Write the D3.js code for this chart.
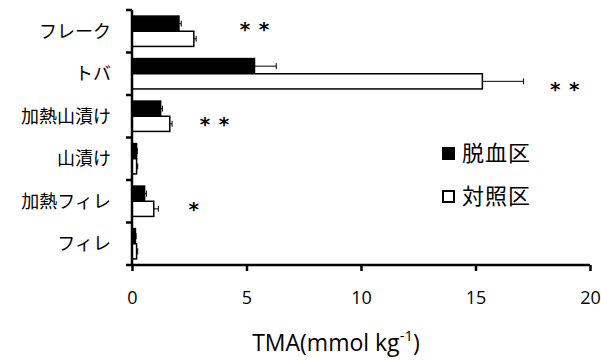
<!DOCTYPE html>
<html>
<head>
<meta charset="utf-8">
<script src="https://cdn.jsdelivr.net/npm/d3@7"></script>
<style>
  body { margin: 0; background: #fff; }
  text { fill: #000; }
</style>
</head>
<body>
<div id="chart"></div>
<script>
// categories top to bottom
var categories = ["フレーク", "トバ", "加熱山漬け", "山漬け", "加熱フィレ", "フィレ"];
var seriesNames = ["脱血区", "対照区"];
var bloodValues = [2.05, 5.35, 1.25, 0.2, 0.55, 0.15];
var bloodErrors = [0.1, 0.95, 0.08, 0.03, 0.08, 0.03];
var controlValues = [2.7, 15.3, 1.65, 0.2, 0.95, 0.2];
var controlErrors = [0.1, 1.8, 0.1, 0.05, 0.2, 0.05];
var marks = ["**", "**", "**", "", "*", ""];
var markAt = [5.35, 18.9, 3.6, null, 2.7, null];   // x value where each mark sits
var xTicks = [0, 5, 10, 15, 20];

var svgWidth = 601;
var svgHeight = 360;
var margin = { top: 10, right: 11, bottom: 95, left: 132 };
var width = svgWidth - margin.left - margin.right;
var height = svgHeight - margin.top - margin.bottom;

var svg = d3.select("#chart")
    .append("svg")
    .attr("width", svgWidth)
    .attr("height", svgHeight);

var chartGroup = svg.append("g")
    .attr("transform", `translate(${margin.left}, ${margin.top})`);

var xScale = d3.scaleLinear().domain([0, 20]).range([0, width]);
var yScale = d3.scaleBand().domain(categories).range([0, height]);
var innerScale = d3.scaleBand().domain(seriesNames)
    .range([0, yScale.bandwidth()])
    .paddingOuter(0.4);

var data = categories.map(function(c, i) {
    return [
        { cat: c, series: seriesNames[0], value: bloodValues[i], err: bloodErrors[i], fill: "#000" },
        { cat: c, series: seriesNames[1], value: controlValues[i], err: controlErrors[i], fill: "#fff" }
    ];
});
var flat = [].concat.apply([], data);

// bars
chartGroup.selectAll("rect.bar")
    .data(flat)
    .enter()
    .append("rect")
    .attr("class", "bar")
    .attr("x", 0)
    .attr("y", d => yScale(d.cat) + innerScale(d.series))
    .attr("width", d => xScale(d.value))
    .attr("height", innerScale.bandwidth())
    .attr("fill", d => d.fill)
    .attr("stroke", "#000")
    .attr("stroke-width", 1.5);

// error bars (right side only)
var errGroup = chartGroup.selectAll("g.err")
    .data(flat)
    .enter()
    .append("g")
    .attr("class", "err")
    .attr("stroke", "#000")
    .attr("stroke-width", 1);

var midY = d => yScale(d.cat) + innerScale(d.series) + innerScale.bandwidth() / 2;

errGroup.append("line")
    .attr("x1", d => xScale(d.value))
    .attr("x2", d => xScale(d.value + d.err))
    .attr("y1", midY)
    .attr("y2", midY);

errGroup.append("line")
    .attr("x1", d => xScale(d.value + d.err))
    .attr("x2", d => xScale(d.value + d.err))
    .attr("y1", d => midY(d) - 3)
    .attr("y2", d => midY(d) + 3);

// x axis
var bottomAxis = d3.axisBottom(xScale).tickValues(xTicks).tickSize(6).tickFormat(d3.format("d"));
var xAxis = chartGroup.append("g")
    .attr("transform", `translate(0, ${height})`)
    .call(bottomAxis);
xAxis.select(".domain").attr("stroke-width", 2.5).attr("d", `M0,0H${width}`);
xAxis.selectAll(".tick line").attr("stroke-width", 2.5);
xAxis.selectAll(".tick text")
    .attr("dy", "0")
    .attr("y", 39)
    .style("font-family", "'Open Sans', sans-serif")
    .style("font-size", "18px");

// y axis
var leftAxis = d3.axisLeft(yScale).tickSize(0).tickFormat("");
var yAxis = chartGroup.append("g").call(leftAxis);
yAxis.select(".domain").attr("stroke-width", 2.5).attr("d", `M0,0V${height}`);
yAxis.selectAll(".tick").remove();

// boundary ticks on y axis
var yBounds = categories.map(c => yScale(c)).concat([height]);
chartGroup.selectAll("line.ytick")
    .data(yBounds)
    .enter()
    .append("line")
    .attr("class", "ytick")
    .attr("x1", -6)
    .attr("x2", 0)
    .attr("y1", d => d)
    .attr("y2", d => d)
    .attr("stroke", "#000")
    .attr("stroke-width", 2.5);

// category labels
chartGroup.selectAll("text.cat")
    .data(categories)
    .enter()
    .append("text")
    .attr("class", "cat")
    .attr("x", -21)
    .attr("y", d => yScale(d) + yScale.bandwidth() / 2)
    .attr("dy", "0.35em")
    .attr("text-anchor", "end")
    .style("font-family", "'Noto Sans CJK JP', sans-serif")
    .style("font-size", "18px")
    .text(d => d);

// significance marks, one text per asterisk
var markShift = [-7, 10, 3, 0, 3, 0];
var stars = [];
categories.forEach(function(c, i) {
    var n = marks[i].length;
    for (var k = 0; k < n; k++) {
        stars.push({ cat: c, i: i, dx: (k - (n - 1) / 2) * 19 });
    }
});
chartGroup.selectAll("text.sig")
    .data(stars)
    .enter()
    .append("text")
    .attr("class", "sig")
    .attr("x", d => xScale(markAt[d.i]) + d.dx)
    .attr("y", d => yScale(d.cat) + yScale.bandwidth() / 2 + markShift[d.i] + 12)
    .attr("text-anchor", "middle")
    .style("font-family", "'DejaVu Sans', sans-serif")
    .style("font-size", "20px")
    .style("font-weight", "bold")
    .text("*");

// legend
var legend = svg.append("g").attr("transform", "translate(442, 0)");
var legendRows = [
    { name: seriesNames[0], fill: "#000", y: 147 },
    { name: seriesNames[1], fill: "#fff", y: 190 }
];
var rows = legend.selectAll("g.row")
    .data(legendRows)
    .enter()
    .append("g")
    .attr("class", "row")
    .attr("transform", d => `translate(0, ${d.y})`);
rows.append("rect")
    .attr("x", 1).attr("y", 1)
    .attr("width", 11).attr("height", 11)
    .attr("fill", d => d.fill)
    .attr("stroke", "#000")
    .attr("stroke-width", 2);
rows.append("text")
    .attr("x", 20).attr("y", 6).attr("dy", "0.36em")
    .style("font-family", "'Noto Sans CJK JP', sans-serif")
    .style("font-size", "22px")
    .style("letter-spacing", "1px")
    .text(d => d.name);

// axis title
var title = svg.append("text")
    .attr("x", 336)
    .attr("y", 351)
    .attr("text-anchor", "middle")
    .style("font-family", "'Open Sans', sans-serif")
    .style("font-size", "23px");
title.append("tspan").text("TMA(mmol kg");
title.append("tspan").attr("dy", -10).style("font-size", "15px").text("-1");
title.append("tspan").attr("dy", 10).text(")");
</script>
</body>
</html>
